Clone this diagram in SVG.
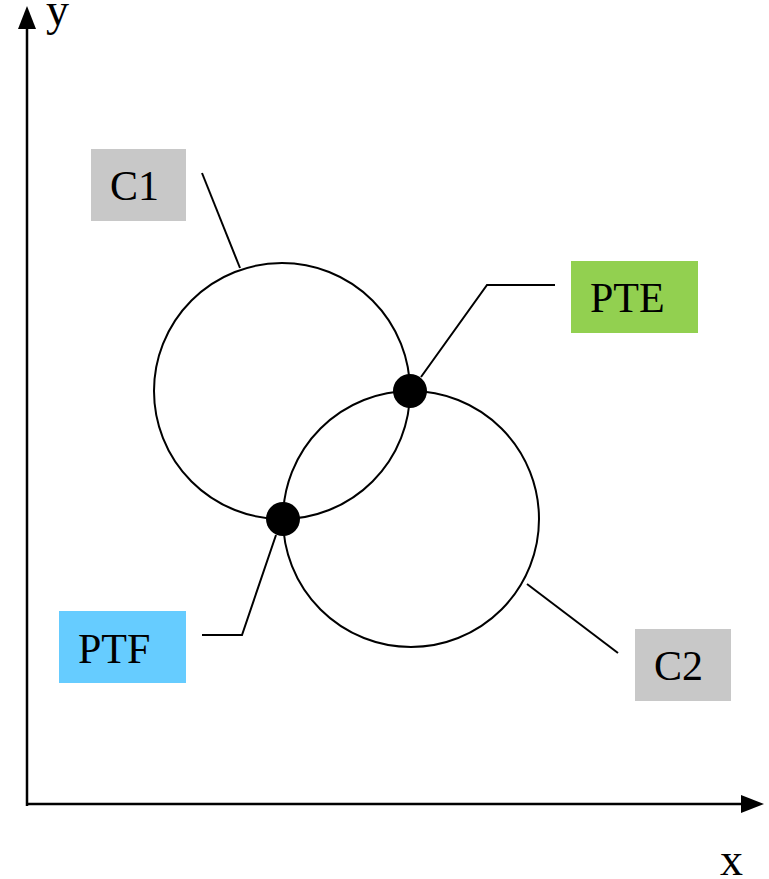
<svg xmlns="http://www.w3.org/2000/svg" width="769" height="879" viewBox="0 0 769 879">
  <defs>
    <style>
      .axis { stroke: #000; stroke-width: 2.5; fill: none; }
      .circ { stroke: #000; stroke-width: 2; fill: none; }
      .lead { stroke: #000; stroke-width: 2; fill: none; }
      .dot { fill: #000; }
      .lbl { font-family: "Liberation Serif", "Times New Roman", serif; font-size: 42px; fill: #000; }
      .ax { font-family: "Liberation Serif", "Times New Roman", serif; font-size: 46px; fill: #000; }
    </style>
  </defs>
  <rect width="769" height="879" fill="#fff"/>

  <!-- axes -->
  <g id="axes">
    <line class="axis" x1="27" y1="806" x2="27" y2="26"/>
    <path d="M18,29 L27,6 L36,29 Z" fill="#000"/>
    <line class="axis" x1="26" y1="804" x2="744" y2="804"/>
    <path d="M741,795 L764,804 L741,813 Z" fill="#000"/>
    <text class="ax" x="46" y="25">y</text>
    <text class="ax" x="720" y="875">x</text>
  </g>

  <!-- circles -->
  <g id="c1-circle"><circle class="circ" cx="282" cy="391" r="128"/></g>
  <g id="c2-circle"><circle class="circ" cx="411" cy="519" r="128"/></g>

  <!-- leader lines -->
  <g id="connectors">
    <polyline class="lead" points="202,173 240,268"/>
    <polyline class="lead" points="555,285 487,285 421,377"/>
    <polyline class="lead" points="202,635 242,635 276,535"/>
    <polyline class="lead" points="527,584 618,653"/>
  </g>

  <!-- intersection points -->
  <g id="pte-point"><circle class="dot" cx="410" cy="391" r="17"/></g>
  <g id="ptf-point"><circle class="dot" cx="283" cy="519" r="17"/></g>

  <!-- labels -->
  <g id="label-c1">
    <rect x="91" y="149" width="95" height="72" fill="#c8c8c8"/>
    <text class="lbl" x="110" y="200">C1</text>
  </g>
  <g id="label-pte">
    <rect x="571" y="261" width="127" height="72" fill="#92d050"/>
    <text class="lbl" x="590" y="312">PTE</text>
  </g>
  <g id="label-ptf">
    <rect x="59" y="611" width="127" height="72" fill="#66ccff"/>
    <text class="lbl" x="78" y="663">PTF</text>
  </g>
  <g id="label-c2">
    <rect x="635" y="629" width="96" height="72" fill="#c8c8c8"/>
    <text class="lbl" x="654" y="680">C2</text>
  </g>
</svg>
